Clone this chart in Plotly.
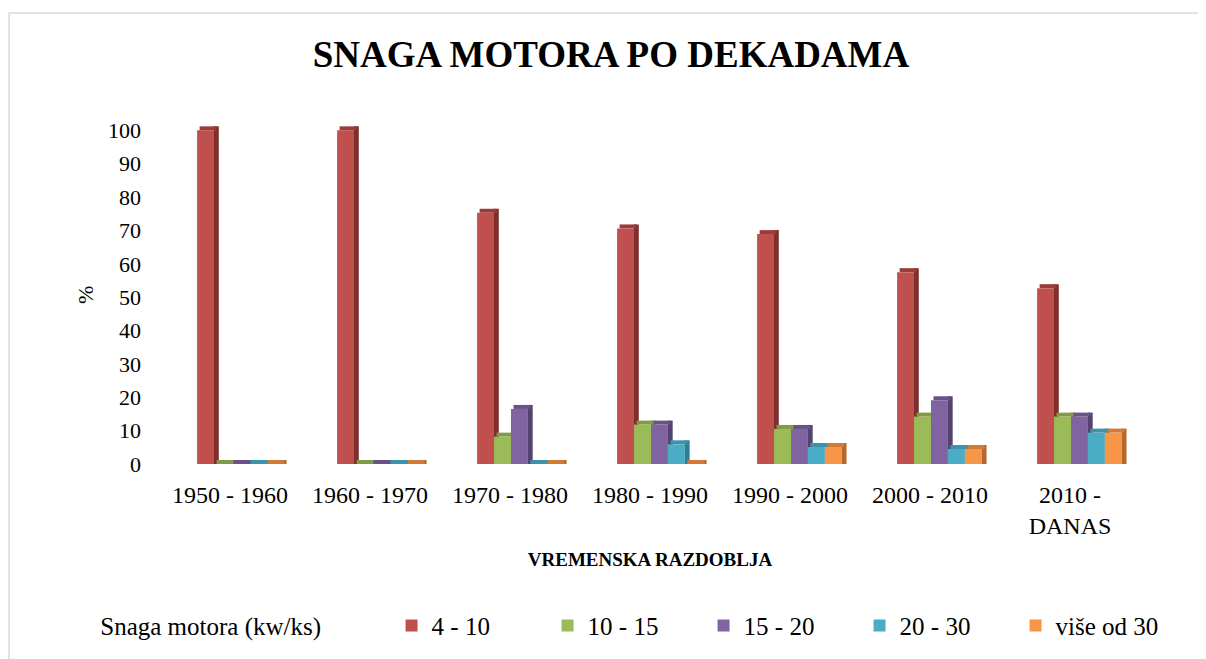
import plotly.graph_objects as go

periods = ["1950 - 1960", "1960 - 1970", "1970 - 1980", "1980 - 1990",
           "1990 - 2000", "2000 - 2010", "2010 - DANAS"]
period_labels = ["1950 - 1960", "1960 - 1970", "1970 - 1980", "1980 - 1990",
                 "1990 - 2000", "2000 - 2010", "2010 -<br>DANAS"]

power_4_10 = [100, 100, 75.3, 70.6, 68.9, 57.5, 52.7]
power_10_15 = [0, 0, 8.2, 11.8, 10.5, 14.2, 14.2]
power_15_20 = [0, 0, 16.5, 11.8, 10.5, 19.1, 14.2]
power_20_30 = [0, 0, 0, 5.9, 5.1, 4.5, 9.4]
power_30_plus = [0, 0, 0, 0, 5.1, 4.5, 9.4]

series = [
    ("4 - 10", power_4_10, "#C0504D", "#7E2F2D", "#9A3C3A"),
    ("10 - 15", power_10_15, "#9BBB59", "#6E8A3A", "#809C47"),
    ("15 - 20", power_15_20, "#8064A2", "#56426F", "#6A5288"),
    ("20 - 30", power_20_30, "#4BACC6", "#2F7F94", "#3C94AC"),
    ("više od 30", power_30_plus, "#F79646", "#B5682B", "#D27A36"),
]

FONT = "Times New Roman, Liberation Serif, serif"
bar_w = 0.121
start = -0.235
depth_x = 0.036
depth_y = 1.2

fig = go.Figure()

# pseudo-3D: side faces and top caps first, front faces on top
for i, (name, values, color, side, cap) in enumerate(series):
    off = start + i * bar_w
    fig.add_trace(go.Bar(
        x=periods, y=[v + depth_y for v in values], base=0,
        width=depth_x, offset=off + bar_w - 0.002,
        marker=dict(color=side, line_width=0),
        showlegend=False, hoverinfo="skip",
    ))
    fig.add_trace(go.Bar(
        x=periods, y=[depth_y] * len(values), base=values,
        width=bar_w, offset=off + depth_x * 0.5,
        marker=dict(color=cap, line_width=0),
        showlegend=False, hoverinfo="skip",
    ))

for i, (name, values, color, side, cap) in enumerate(series):
    off = start + i * bar_w
    fig.add_trace(go.Bar(
        x=periods, y=values, name=name,
        width=bar_w, offset=off,
        marker=dict(color=color, line_width=0),
    ))

fig.update_layout(
    barmode="overlay",
    width=1206, height=659,
    paper_bgcolor="white", plot_bgcolor="white",
    font=dict(family=FONT, size=20, color="#000000"),
    title=dict(text="<b>SNAGA MOTORA PO DEKADAMA</b>", x=0.5, xanchor="center",
               y=0.93, yanchor="middle",
               font=dict(size=37, family=FONT, color="#000000")),
    margin=dict(l=152, r=74, t=109, b=203, autoexpand=False),
    showlegend=True,
    legend=dict(
        orientation="h", x=-0.063, xanchor="left", y=-0.466, yanchor="middle",
        title=dict(text="Snaga motora (kw/ks)" + "&nbsp;" * 10,
                   font=dict(size=25, family=FONT, color="#000000")),
        font=dict(size=25, family=FONT, color="#000000"),
        entrywidth=111, itemwidth=30,
        traceorder="normal",
    ),
    shapes=[dict(type="rect", xref="paper", yref="paper",
                 x0=-0.154, x1=1.1, y0=-0.573, y1=1.30,
                 line=dict(color="#D9D9D9", width=1.5), layer="below")],
    annotations=[dict(text="%", xref="paper", yref="paper", x=-0.0765, y=0.487,
                      xanchor="center", yanchor="middle", textangle=-90,
                      showarrow=False,
                      font=dict(size=22, family=FONT, color="#000000"))],
)
fig.update_xaxes(
    tickvals=periods, ticktext=period_labels, showgrid=False, automargin=False,
    showline=False, zeroline=False, ticks="", ticklabelstandoff=14,
    tickfont=dict(size=24, family=FONT, color="#000000"),
    title=dict(text="<b>VREMENSKA RAZDOBLJA</b>",
               font=dict(size=19, family=FONT, color="#000000"), standoff=14),
    range=[-0.5, 6.5],
)
fig.update_yaxes(
    range=[0, 104], tickvals=list(range(0, 101, 10)), showgrid=False,
    automargin=False,
    showline=False, zeroline=False, ticks="", ticklabelstandoff=18,
    tickfont=dict(size=22, family=FONT, color="#000000"),
)

fig.write_html("out.html")
